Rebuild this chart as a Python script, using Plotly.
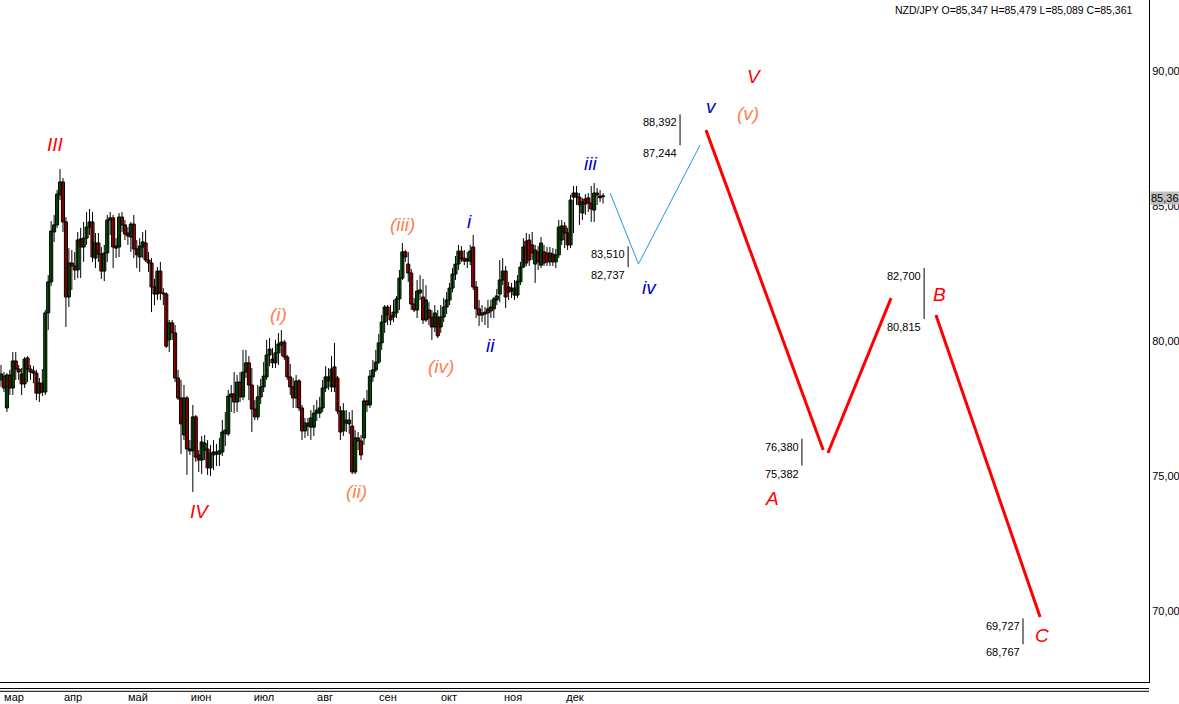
import plotly.graph_objects as go

# ---------------- data (NZD/JPY daily candles, mar..dec) ----------------
O = [78.56, 78.70, 77.52, 78.74, 78.26, 79.26, 78.96, 78.78, 78.41, 79.37,
     78.96, 78.89, 78.81, 78.07, 78.44, 78.11, 81.04, 82.19, 84.04, 84.30,
     85.41, 85.89, 84.41, 81.63, 82.89, 82.78, 82.63, 83.78, 83.48, 83.81,
     84.22, 84.41, 83.07, 83.63, 83.22, 82.59, 83.26, 84.56, 84.56, 83.52,
     83.48, 84.59, 84.30, 84.00, 83.85, 84.33, 83.41, 83.11, 83.48, 83.63,
     83.00, 82.89, 82.00, 81.74, 82.59, 81.78, 81.74, 80.04, 80.67, 80.30,
     78.63, 77.89, 76.52, 77.89, 76.00, 75.93, 77.19, 75.78, 75.59, 75.96,
     76.00, 75.30, 75.78, 75.89, 75.81, 75.89, 76.56, 76.56, 77.93, 78.04,
     77.74, 78.48, 77.93, 78.85, 79.19, 78.37, 77.48, 77.19, 77.93, 78.30,
     78.67, 79.48, 79.33, 79.19, 79.56, 79.85, 79.96, 79.41, 78.67, 78.30,
     77.89, 78.52, 77.52, 76.67, 76.96, 76.81, 76.81, 77.33, 77.33, 77.52,
     78.26, 78.67, 78.30, 79.04, 78.63, 77.41, 76.67, 77.07, 76.93, 76.85,
     75.15, 76.41, 76.30, 76.41, 77.78, 77.63, 78.67, 78.93, 79.22, 79.93,
     80.70, 81.26, 80.93, 80.89, 81.04, 81.56, 82.33, 83.30, 82.85, 82.52,
     81.37, 81.15, 81.78, 81.63, 80.78, 81.15, 80.89, 80.52, 80.89, 80.52,
     80.89, 81.26, 81.52, 81.96, 82.48, 82.85, 83.33, 83.07, 83.04, 82.96,
     83.48, 82.00, 81.19, 80.96, 81.07, 81.04, 81.26, 81.19, 81.52, 81.74,
     82.26, 82.59, 82.00, 81.96, 81.70, 81.70, 82.19, 82.74, 83.70, 83.74,
     83.56, 82.85, 83.30, 82.81, 83.30, 83.26, 82.93, 83.22, 82.93, 83.19,
     83.74, 84.26, 84.00, 83.56, 85.48, 85.33, 85.33, 84.74, 85.26, 85.30,
     85.11, 84.85, 85.48, 85.37, 85.347]
H = [79.11, 78.85, 78.81, 78.93, 79.59, 79.59, 79.11, 79.00, 79.41, 79.44,
     79.11, 79.07, 78.93, 78.63, 78.96, 81.15, 82.44, 84.44, 84.67, 85.59,
     86.37, 86.04, 84.59, 83.44, 83.37, 83.30, 84.04, 84.19, 84.41, 84.78,
     84.89, 84.78, 84.00, 84.00, 83.48, 83.56, 84.67, 84.78, 84.67, 83.81,
     84.74, 84.78, 84.48, 84.22, 84.41, 84.67, 83.74, 83.81, 84.04, 84.11,
     83.30, 83.07, 82.30, 82.74, 82.93, 81.96, 81.81, 80.78, 80.78, 80.59,
     78.93, 78.56, 78.37, 77.96, 76.33, 77.63, 77.26, 75.96, 76.48, 76.52,
     76.33, 76.15, 76.33, 76.19, 76.41, 77.07, 77.37, 78.19, 78.37, 78.85,
     78.74, 78.85, 79.67, 79.67, 79.44, 79.00, 77.81, 78.37, 78.59, 79.22,
     80.04, 80.11, 79.74, 80.04, 80.30, 80.41, 80.04, 79.48, 79.15, 78.63,
     78.74, 78.59, 77.63, 77.15, 77.15, 77.44, 77.63, 77.81, 77.93, 78.56,
     79.07, 79.00, 79.44, 79.93, 78.70, 77.59, 77.70, 77.44, 77.37, 77.44,
     76.70, 76.63, 76.52, 77.89, 78.19, 78.93, 79.30, 79.67, 80.26, 80.96,
     81.33, 81.33, 81.33, 81.52, 81.67, 82.63, 83.63, 83.37, 83.30, 82.67,
     81.59, 82.26, 82.44, 82.30, 82.07, 81.44, 81.15, 81.33, 81.15, 81.33,
     81.59, 81.81, 82.15, 82.70, 83.15, 83.56, 83.52, 83.37, 83.30, 83.56,
     83.93, 82.22, 81.52, 81.33, 81.26, 81.52, 81.52, 81.63, 81.93, 83.00,
     83.07, 82.78, 82.19, 82.15, 82.26, 82.44, 82.93, 83.81, 84.00, 83.96,
     84.04, 83.56, 83.52, 83.85, 83.56, 83.48, 83.48, 83.44, 83.41, 84.48,
     84.48, 84.41, 84.19, 85.41, 85.74, 85.74, 85.48, 85.30, 85.44, 85.48,
     85.74, 85.85, 85.67, 85.59, 85.479]
L = [78.30, 78.11, 77.37, 78.00, 78.00, 78.56, 78.56, 78.00, 78.26, 78.48,
     78.56, 78.44, 77.81, 77.74, 77.96, 78.00, 80.41, 82.04, 83.67, 84.19,
     85.22, 84.04, 80.52, 81.26, 81.89, 82.26, 82.33, 82.33, 82.93, 83.56,
     83.93, 82.93, 82.70, 82.93, 82.30, 82.22, 82.93, 83.93, 82.70, 83.07,
     83.11, 84.04, 83.74, 83.56, 83.30, 83.07, 82.70, 82.56, 83.07, 82.93,
     82.56, 81.07, 81.33, 81.52, 81.52, 81.33, 79.74, 79.59, 80.04, 78.48,
     77.81, 75.81, 76.33, 75.04, 75.78, 74.41, 75.52, 75.15, 75.07, 75.59,
     75.04, 75.00, 75.22, 75.37, 75.37, 75.74, 76.11, 76.48, 77.37, 77.33,
     77.37, 77.74, 77.81, 78.63, 77.81, 76.63, 77.07, 77.07, 77.67, 78.11,
     78.56, 79.07, 79.00, 79.00, 79.11, 79.44, 79.30, 78.56, 78.00, 77.52,
     77.52, 77.41, 76.33, 76.41, 76.48, 76.33, 76.48, 77.04, 77.15, 77.37,
     78.11, 78.19, 78.11, 78.11, 77.30, 76.33, 76.48, 76.63, 76.56, 75.07,
     75.07, 75.96, 75.59, 76.15, 77.37, 77.52, 78.48, 78.85, 79.15, 79.67,
     80.30, 80.59, 80.59, 80.70, 80.85, 81.15, 82.26, 82.93, 82.19, 81.15,
     81.07, 80.85, 81.52, 80.63, 80.70, 80.59, 80.04, 80.33, 80.11, 80.30,
     80.70, 81.00, 81.33, 81.81, 82.26, 82.63, 82.93, 82.81, 82.70, 82.81,
     81.89, 80.85, 80.56, 80.70, 80.59, 80.48, 80.85, 80.85, 81.33, 81.44,
     82.07, 81.22, 81.52, 81.59, 81.52, 81.59, 82.07, 82.70, 82.78, 82.78,
     83.00, 82.15, 82.63, 82.70, 82.78, 82.78, 82.78, 82.78, 82.70, 83.07,
     83.56, 83.44, 83.37, 83.44, 84.00, 85.04, 84.30, 84.48, 84.67, 84.78,
     84.41, 84.41, 85.04, 85.15, 85.089]
C = [78.78, 78.26, 78.74, 78.26, 79.26, 78.96, 78.85, 78.41, 79.33, 78.96,
     78.85, 78.81, 78.07, 78.44, 78.11, 81.04, 82.19, 84.07, 84.30, 85.44,
     85.89, 84.41, 81.63, 82.89, 82.78, 82.63, 83.74, 83.48, 83.81, 84.22,
     84.41, 83.11, 83.63, 83.22, 82.59, 83.26, 84.48, 84.48, 83.48, 83.44,
     84.59, 84.30, 83.96, 83.89, 84.33, 83.41, 83.19, 83.52, 83.67, 83.00,
     82.89, 82.00, 81.74, 82.59, 81.78, 81.74, 79.81, 80.67, 80.30, 78.63,
     77.89, 76.93, 77.89, 76.00, 75.93, 77.19, 75.70, 75.59, 76.26, 76.22,
     75.30, 75.85, 75.89, 75.81, 75.93, 76.63, 76.70, 77.96, 78.04, 77.74,
     78.48, 77.93, 78.85, 79.19, 78.37, 77.48, 77.19, 77.93, 78.30, 78.70,
     79.48, 79.70, 79.19, 79.56, 79.89, 79.96, 79.41, 78.67, 78.30, 77.89,
     78.52, 77.52, 76.67, 76.96, 76.85, 77.15, 77.33, 77.44, 77.52, 78.26,
     78.67, 78.52, 78.96, 78.30, 77.41, 76.63, 77.41, 76.96, 77.07, 75.15,
     76.41, 76.30, 75.78, 77.78, 77.63, 78.70, 78.93, 79.22, 79.93, 80.70,
     81.26, 80.96, 80.78, 81.07, 81.56, 82.33, 83.30, 83.11, 82.52, 81.37,
     81.15, 81.85, 81.89, 80.78, 81.52, 80.85, 80.52, 81.04, 80.19, 80.89,
     81.26, 81.52, 81.96, 82.48, 82.85, 83.33, 83.04, 82.96, 82.96, 83.33,
     82.00, 81.19, 80.96, 81.04, 81.00, 81.19, 81.11, 81.56, 81.67, 82.26,
     82.59, 81.63, 81.81, 81.85, 81.96, 82.22, 82.74, 83.48, 82.89, 83.00,
     83.26, 83.37, 82.93, 83.63, 82.89, 82.93, 83.26, 82.93, 83.19, 84.22,
     84.26, 84.00, 83.56, 85.22, 85.33, 85.48, 85.04, 85.15, 85.07, 85.11,
     84.89, 85.48, 85.41, 85.30, 85.361]

month_labels = ["мар", "апр", "май", "июн", "июл", "авг", "сен", "окт", "ноя", "дек"]
month_pos = [4.4, 24.4, 46.4, 67.8, 89.1, 109.8, 131.1, 151.8, 173.5, 194.5]

y_ticks = [70, 75, 80, 85, 90]
y_ticktext = ["70,000", "75,000", "80,000", "85,000", "90,000"]

# projected minor wave (blue) and major correction (red)
blue_x = [206.4, 216.0, 236.9]
blue_y = [85.48, 82.85, 87.26]
red_x = [238.9, 278.6, None, 280.2, 301.6, None, 316.8, 352.1]
red_y = [87.81, 75.96, None, 75.85, 81.59, None, 80.96, 69.78]

# target level brackets
lvl_x = [212.5, 230.1, 271.4, 312.8, 346.3]
lvl_hi = [83.510, 88.392, 76.380, 82.700, 69.727]
lvl_lo = [82.737, 87.244, 75.382, 80.815, 68.767]

# wave labels
wave_text = ["III", "IV", "(i)", "(ii)", "(iii)", "(iv)", "i", "ii", "iii", "iv",
             "v", "(v)", "V", "A", "B", "C"]
wave_x = [18.6, 67.4, 93.9, 120.3, 135.9, 149.1, 158.9, 166.0, 199.9, 219.6,
          240.6, 253.1, 255.2, 261.3, 317.9, 352.8]
wave_y = [87.26, 73.70, 81.00, 74.44, 84.33, 79.04, 84.44, 79.85, 86.56, 82.00,
          88.67, 88.44, 89.81, 74.15, 81.74, 69.11]
RED, ORANGE, BLUE = "#ff0000", "#ff8050", "#0000cc"
wave_col = [RED, RED, ORANGE, ORANGE, ORANGE, ORANGE, BLUE, BLUE, BLUE, BLUE,
            BLUE, ORANGE, RED, RED, RED, RED]

header = "NZD/JPY O=85,347 H=85,479 L=85,089 C=85,361"
last_close = C[-1]

FONT = "Liberation Sans, Arial, sans-serif"

idx = list(range(len(O)))

# wicks (high-low) as one line trace
wick_x, wick_y = [], []
for i, h, l in zip(idx, H, L):
    wick_x += [i, i, None]
    wick_y += [l, h, None]

# bodies as bars from open to close
body_base = [min(o, c) for o, c in zip(O, C)]
body_len = [max(abs(c - o), 0.03) for o, c in zip(O, C)]
body_col = ["#008000" if c >= o else "#ff0000" for o, c in zip(O, C)]

fig = go.Figure()
fig.add_trace(go.Scatter(x=wick_x, y=wick_y, mode="lines", connectgaps=False,
                         line=dict(color="black", width=1), showlegend=False, hoverinfo="skip"))
fig.add_trace(go.Bar(x=idx, y=body_len, base=body_base, width=1.05,
                     marker=dict(color=body_col, line=dict(color="black", width=1)),
                     showlegend=False, hoverinfo="skip"))

fig.add_trace(go.Scatter(x=blue_x, y=blue_y, mode="lines",
                         line=dict(color="#1e9be6", width=1), showlegend=False, hoverinfo="skip"))
fig.add_trace(go.Scatter(x=red_x, y=red_y, mode="lines", connectgaps=False,
                         line=dict(color="#ff0000", width=3), showlegend=False, hoverinfo="skip"))

for x, hi, lo in zip(lvl_x, lvl_hi, lvl_lo):
    fig.add_shape(type="line", x0=x, x1=x, y0=lo, y1=hi, xref="x", yref="y",
                  line=dict(color="black", width=1))
    for v in (hi, lo):
        fig.add_annotation(x=x, y=v, xref="x", yref="y", text=f"{v:.3f}".replace(".", ","),
                           showarrow=False, xanchor="right", yanchor="top", xshift=-1,
                           font=dict(family=FONT, size=11, color="black"))

for t, x, y, col in zip(wave_text, wave_x, wave_y, wave_col):
    fig.add_annotation(x=x, y=y, xref="x", yref="y", text=f"<i>{t}</i>", showarrow=False,
                       xanchor="center", yanchor="middle",
                       font=dict(family=FONT, size=19, color=col))

fig.add_annotation(x=1135 / 1149, y=1, xref="paper", yref="paper", text=header,
                   showarrow=False, xanchor="right", yanchor="top", yshift=-2,
                   font=dict(family=FONT, size=10.5, color="black"))
fig.add_annotation(x=1, y=last_close, xref="paper", yref="y", text="85,36",
                   showarrow=False, xanchor="left", yanchor="middle", xshift=1, yshift=-2,
                   bgcolor="#c0c0c0", borderpad=0,
                   font=dict(family=FONT, size=11, color="black"))

for yp in (-6.5 / 682, -9.3 / 682):
    fig.add_shape(type="line", x0=0, x1=1, y0=yp, y1=yp, xref="paper", yref="paper",
                  line=dict(color="black", width=1))

fig.update_layout(
    width=1179, height=704,
    margin=dict(l=0, r=30, t=0, b=22, autoexpand=False),
    paper_bgcolor="white", plot_bgcolor="white",
    font=dict(family=FONT, size=11, color="black"),
    separators=", ",
    barmode="overlay",
    xaxis=dict(range=[-0.34, 389.0], showgrid=False, zeroline=False,
               showline=True, linecolor="black", linewidth=1,
               tickvals=month_pos, ticktext=month_labels, ticks="",
               ticklabelstandoff=5, automargin=False,
               tickfont=dict(family=FONT, size=11, color="black"),
               fixedrange=True),
    yaxis=dict(range=[67.37, 92.63], side="right", showgrid=False, zeroline=False,
               showline=True, linecolor="black", linewidth=1,
               tickvals=y_ticks, ticktext=y_ticktext, ticks="", automargin=False,
               tickfont=dict(family=FONT, size=11, color="black"), fixedrange=True),
)

fig.write_html("out.html", config={"displayModeBar": False},
               post_script="document.body.style.margin='0px';")
